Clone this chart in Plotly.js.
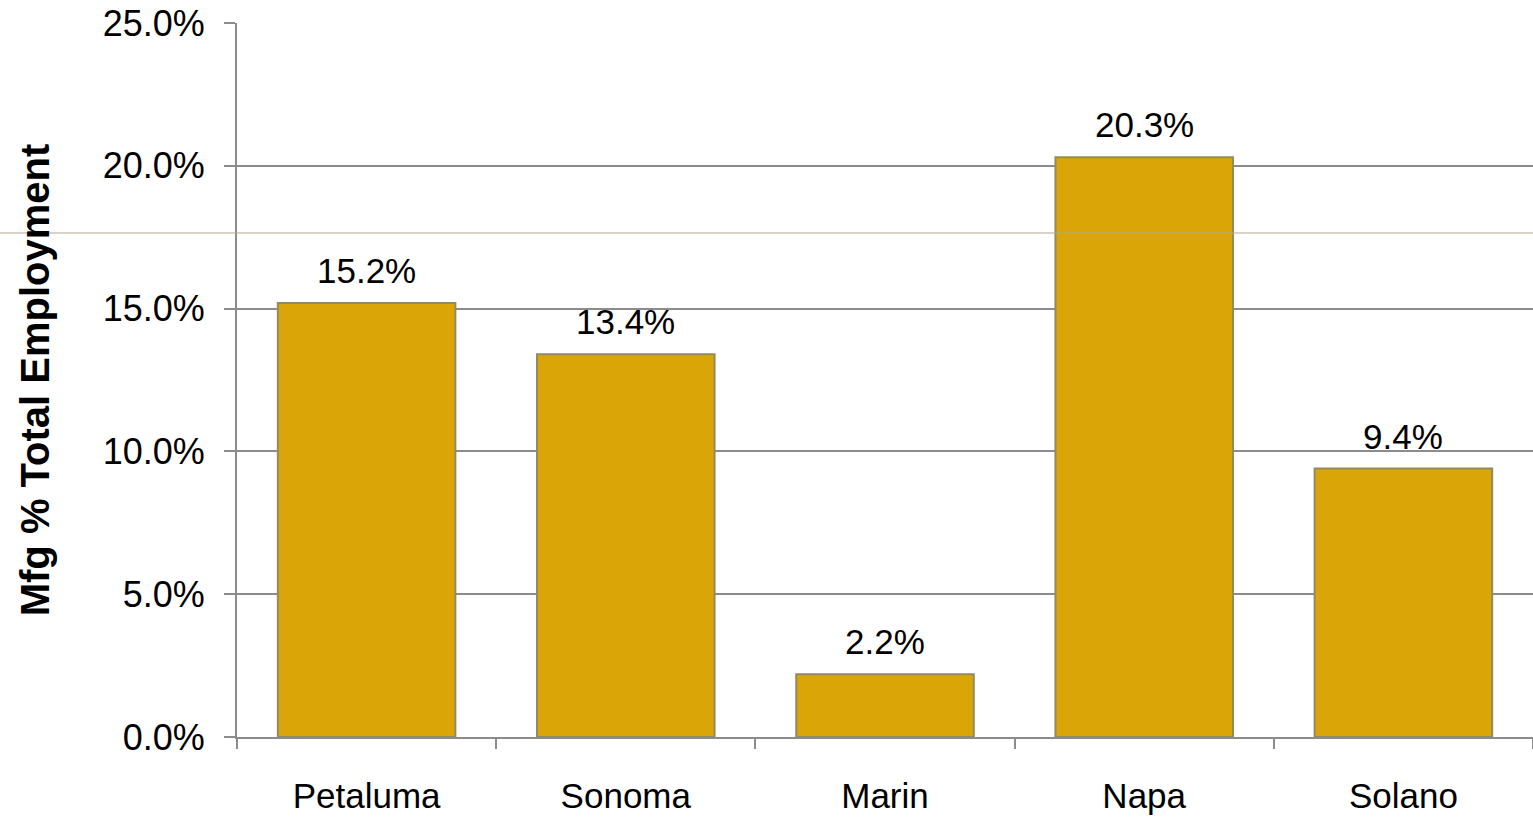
<!DOCTYPE html>
<html>
<head>
<meta charset="utf-8">
<script src="https://cdn.plot.ly/plotly-3.0.1.min.js"></script>
<style>
  html, body { margin: 0; padding: 0; background: #ffffff; }
  #chart { width: 1533px; height: 817px; }
</style>
</head>
<body>
<div id="chart"></div>
<script>
// Manufacturing share of total employment by area
const areas = ["Petaluma", "Sonoma", "Marin", "Napa", "Solano"];
const mfgShare = [15.2, 13.4, 2.2, 20.3, 9.4];
const yTicks = [0, 5, 10, 15, 20, 25];

const gold = "#DAA506";
const grid = "#8c8c8c";
const fontFamily = "'Liberation Sans', Arial, sans-serif";

const bars = {
  type: "bar",
  x: areas,
  y: mfgShare,
  width: 0.685,
  marker: {
    color: gold,
    line: { color: "#938a5e", width: 2 }
  },
  hoverinfo: "x+y"
};

// value labels sit a little above each bar
const valueLabels = areas.map((a, i) => ({
  x: a,
  y: mfgShare[i],
  xref: "x",
  yref: "y",
  text: mfgShare[i].toFixed(1) + "%",
  showarrow: false,
  yanchor: "bottom",
  yshift: 11,
  font: { family: fontFamily, size: 35, color: "#000000" }
}));

const layout = {
  width: 1533,
  height: 817,
  margin: { l: 237, r: 0, t: 23, b: 80, pad: 0 },
  paper_bgcolor: "#ffffff",
  plot_bgcolor: "#ffffff",
  showlegend: false,
  font: { family: fontFamily, size: 35, color: "#000000" },
  xaxis: {
    type: "category",
    tickson: "boundaries",
    ticks: "outside",
    ticklen: 10,
    tickwidth: 2,
    tickcolor: grid,
    showline: true,
    linecolor: grid,
    linewidth: 2,
    showgrid: false,
    tickfont: { family: fontFamily, size: 35, color: "#000000" },
    ticklabelstandoff: 27
  },
  yaxis: {
    range: [0, 25],
    tickvals: yTicks,
    ticktext: yTicks.map(v => v.toFixed(1) + "%"),
    ticks: "outside",
    ticklen: 11,
    tickwidth: 2,
    tickcolor: grid,
    showline: true,
    linecolor: grid,
    linewidth: 2,
    showgrid: true,
    gridcolor: grid,
    gridwidth: 2,
    zeroline: false,
    tickfont: { family: fontFamily, size: 36, color: "#000000" },
    ticklabelstandoff: 12,
    title: {
      text: "<b>Mfg % Total Employment</b>",
      font: { family: fontFamily, size: 40, color: "#000000" },
      standoff: 41
    }
  },
  annotations: valueLabels,
  shapes: [{
    type: "line",
    xref: "paper",
    yref: "paper",
    x0: -237 / 1296,
    x1: 1,
    y0: 0.7059,
    y1: 0.7059,
    line: { color: "#b3a891", width: 1 },
    layer: "above"
  }]
};

Plotly.newPlot("chart", [bars], layout, { staticPlot: true, displayModeBar: false });
</script>
</body>
</html>
